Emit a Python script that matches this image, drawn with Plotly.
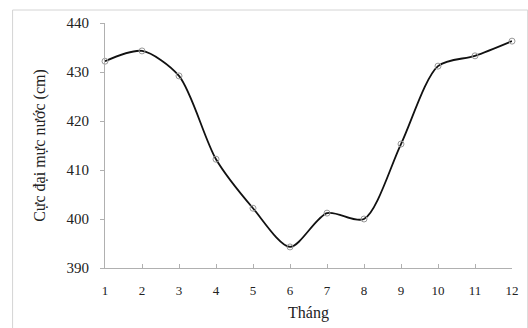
import plotly.graph_objects as go

months = [1, 2, 3, 4, 5, 6, 7, 8, 9, 10, 11, 12]
water_max = [432.2, 434.3, 429.2, 412.2, 402.2, 394.3, 401.2, 400.0, 415.3, 431.2, 433.3, 436.3]
y_ticks = [390, 400, 410, 420, 430, 440]

W, H = 528, 328
L, R, T, B = 105, 9, 23, 60
pw, ph = W - L - R, H - T - B

def px_x(p):
    return (p - L) / pw

def px_y(p):
    return (H - B - p) / ph

fig = go.Figure()
fig.add_trace(go.Scatter(
    x=months, y=water_max, mode="lines+markers",
    line=dict(color="#111111", width=1.8, shape="spline", smoothing=0.8),
    marker=dict(symbol="circle-open", size=6, color="#999999", line=dict(width=1, color="#999999")),
    showlegend=False, cliponaxis=False,
))

font_serif = "Liberation Serif, Times New Roman, serif"
fig.update_layout(
    width=W, height=H,
    margin=dict(l=L, r=R, t=T, b=B),
    paper_bgcolor="white", plot_bgcolor="white",
    font=dict(family=font_serif, color="#222222", size=12),
    xaxis=dict(
        range=[1, 12], tickvals=months, ticktext=[str(m) for m in months],
        showgrid=False, zeroline=False, showline=True, linecolor="#b0b0b0", linewidth=1,
        ticks="inside", ticklen=4, tickcolor="#b0b0b0",
        title=dict(text="Tháng", font=dict(size=16, family=font_serif), standoff=10),
        tickfont=dict(size=13, family=font_serif), ticklabelstandoff=10,
    ),
    yaxis=dict(
        range=[390, 440], tickvals=y_ticks,
        showgrid=False, zeroline=False, showline=True, linecolor="#b0b0b0", linewidth=1,
        ticks="outside", ticklen=4, tickcolor="#b0b0b0",
        title=dict(text="Cực đại mực nước (cm)", font=dict(size=16, family=font_serif), standoff=16),
        tickfont=dict(size=15, family=font_serif), ticklabelstandoff=8,
    ),
    shapes=[dict(
        type="rect", xref="paper", yref="paper",
        x0=px_x(11), x1=px_x(535), y0=px_y(335), y1=px_y(10),
        line=dict(color="#d4d4d4", width=1), fillcolor="rgba(0,0,0,0)", layer="below",
    )],
)

fig.write_html("out.html")
